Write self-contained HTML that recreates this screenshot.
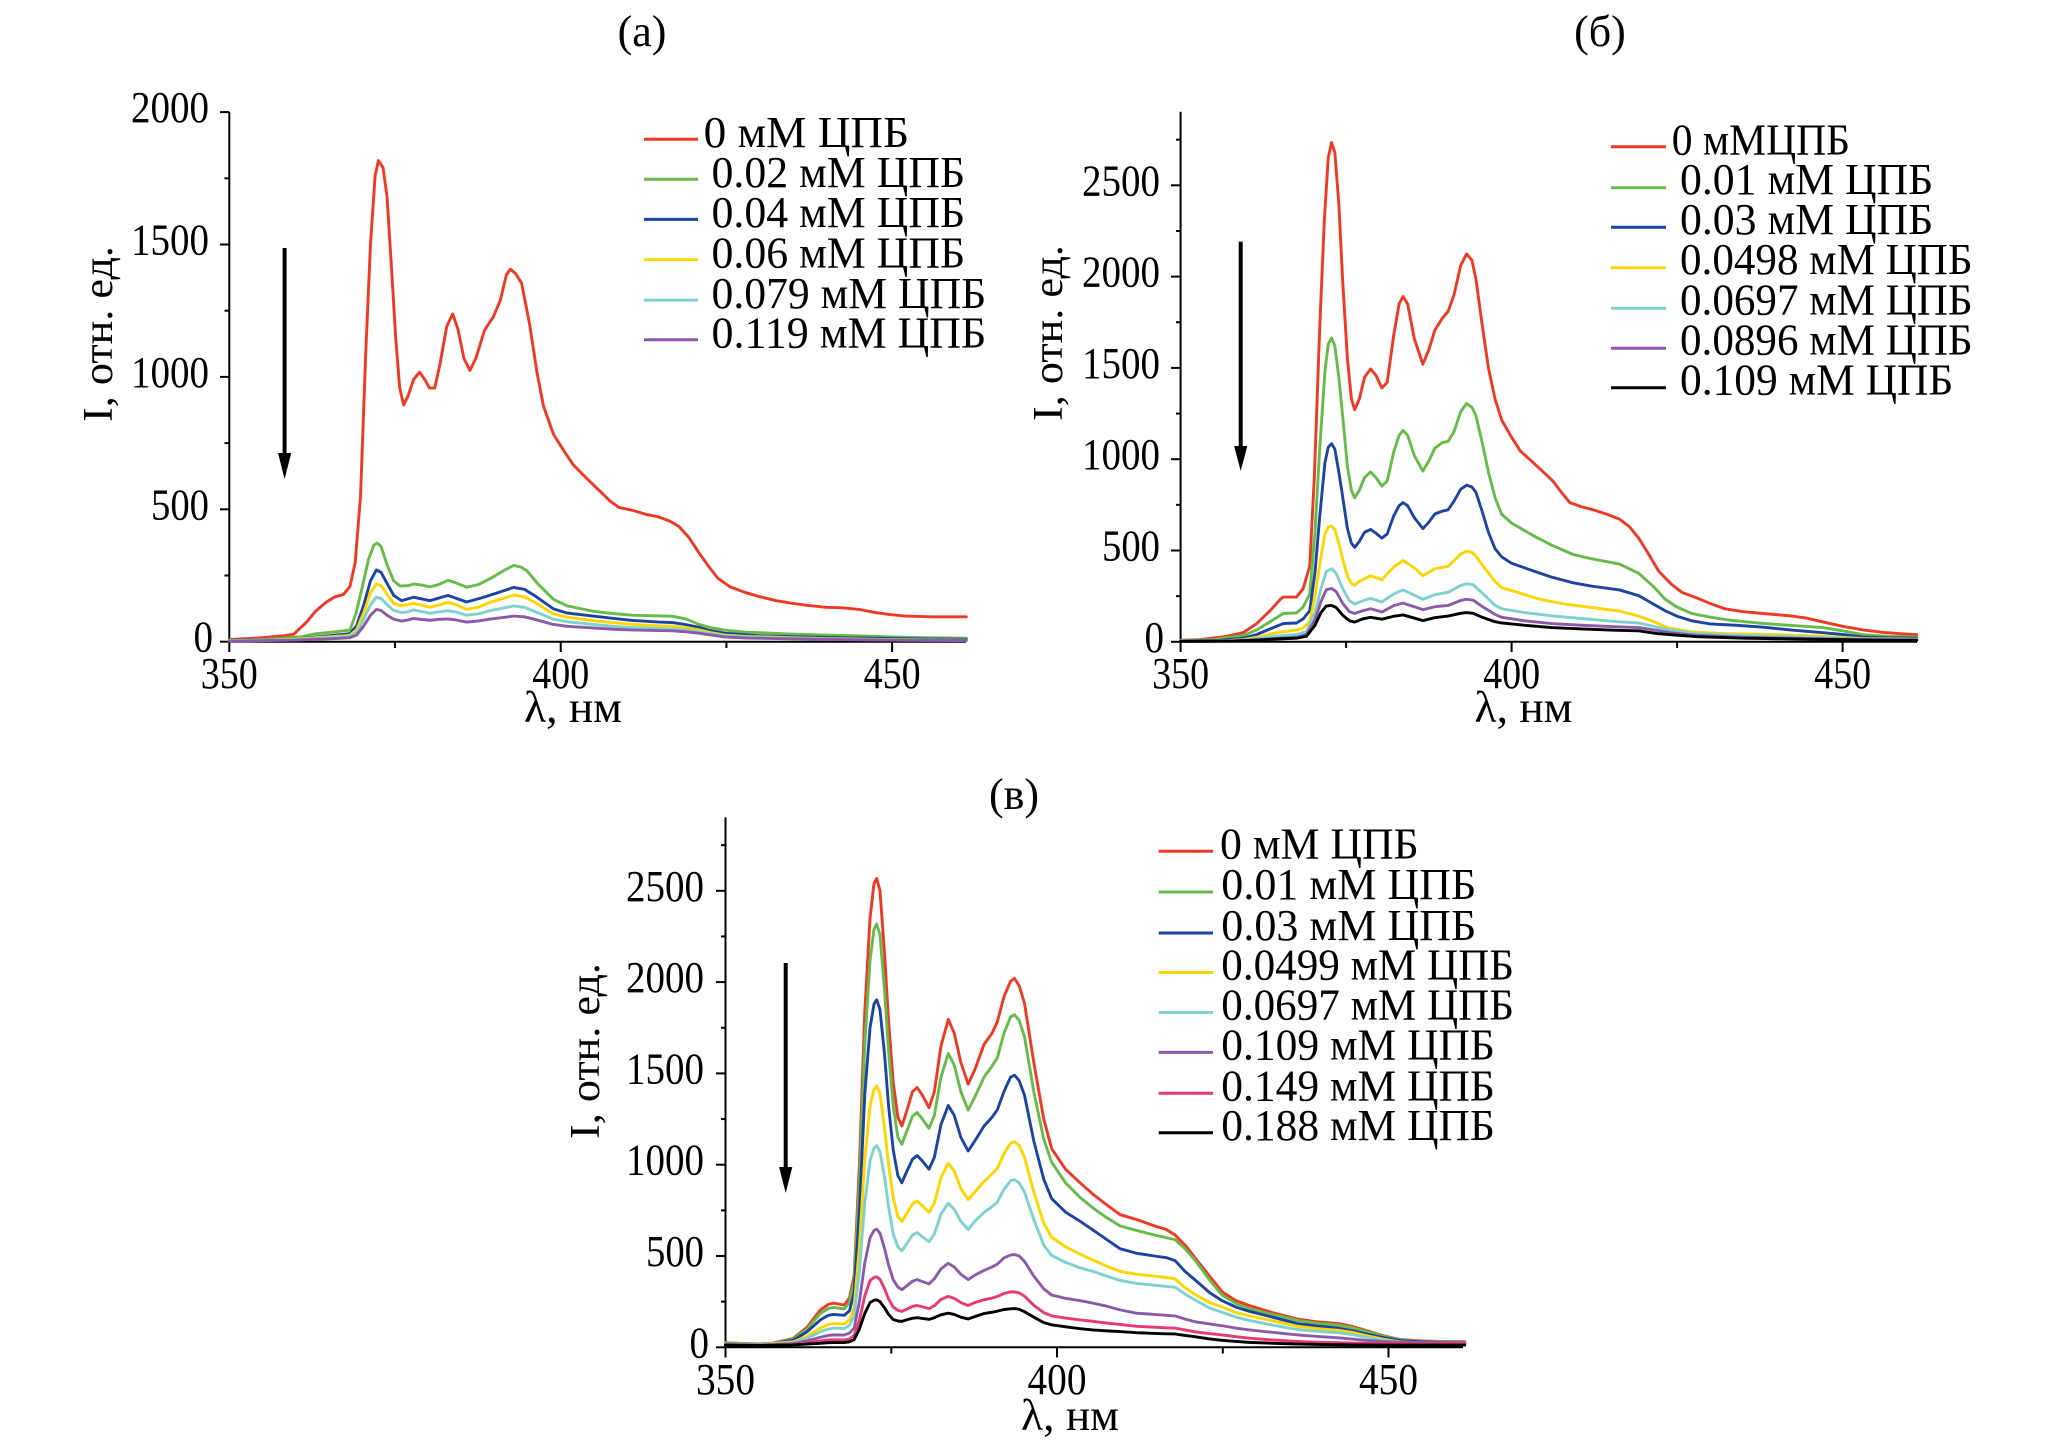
<!DOCTYPE html>
<html><head><meta charset="utf-8"><style>
html,body{margin:0;padding:0;background:#fff;}
svg{display:block;}
text{font-family:"Liberation Serif","Noto Serif CJK SC",serif;fill:#000;}
.c{fill:none;stroke-width:2.9;stroke-linejoin:round;stroke-linecap:round;vector-effect:non-scaling-stroke;}
.ax{stroke:#000;stroke-width:2;fill:none;}
.tk{stroke:#000;stroke-width:2;}
.r{stroke:#ee3a24}.g{stroke:#66bb4a}.b{stroke:#1d44a0}.y{stroke:#fdd600}.cy{stroke:#7fd1cf}.p{stroke:#8a5ca8}.pk{stroke:#e83a76}.k{stroke:#000}
</style></head><body>
<svg width="2067" height="1452" viewBox="0 0 2067 1452" xmlns="http://www.w3.org/2000/svg">
<rect width="2067" height="1452" fill="#fff"/>

<!-- ===================== PANEL (a) ===================== -->
<text x="642" y="46" font-size="44" text-anchor="middle">(a)</text>
<g>
<line class="ax" x1="229.3" y1="112" x2="229.3" y2="641.7"/>
<line class="ax" x1="229.3" y1="641.7" x2="966" y2="641.7"/>
<line class="tk" x1="220" y1="641.7" x2="229.3" y2="641.7"/>
<line class="tk" x1="220" y1="509.3" x2="229.3" y2="509.3"/>
<line class="tk" x1="220" y1="376.9" x2="229.3" y2="376.9"/>
<line class="tk" x1="220" y1="244.5" x2="229.3" y2="244.5"/>
<line class="tk" x1="220" y1="112.1" x2="229.3" y2="112.1"/>
<line class="tk" x1="224.5" y1="575.5" x2="229.3" y2="575.5"/>
<line class="tk" x1="224.5" y1="443.1" x2="229.3" y2="443.1"/>
<line class="tk" x1="224.5" y1="310.7" x2="229.3" y2="310.7"/>
<line class="tk" x1="224.5" y1="178.3" x2="229.3" y2="178.3"/>
<line class="tk" x1="229.3" y1="641.7" x2="229.3" y2="652"/>
<line class="tk" x1="395" y1="641.7" x2="395" y2="648"/>
<line class="tk" x1="560.7" y1="641.7" x2="560.7" y2="652"/>
<line class="tk" x1="726.4" y1="641.7" x2="726.4" y2="648"/>
<line class="tk" x1="892.1" y1="641.7" x2="892.1" y2="652"/>
</g>
<g font-size="44" text-anchor="end">
<text x="213" y="651.7" textLength="19.5" lengthAdjust="spacingAndGlyphs">0</text>
<text x="209" y="519.3" textLength="58" lengthAdjust="spacingAndGlyphs">500</text>
<text x="209" y="386.9" textLength="78" lengthAdjust="spacingAndGlyphs">1000</text>
<text x="209" y="254.5" textLength="78" lengthAdjust="spacingAndGlyphs">1500</text>
<text x="209" y="122.1" textLength="78" lengthAdjust="spacingAndGlyphs">2000</text>
</g>
<g font-size="44" text-anchor="middle">
<text x="229.3" y="688" textLength="57" lengthAdjust="spacingAndGlyphs">350</text>
<text x="560.7" y="688" textLength="57" lengthAdjust="spacingAndGlyphs">400</text>
<text x="892.1" y="688" textLength="57" lengthAdjust="spacingAndGlyphs">450</text>
<text x="573" y="722" textLength="98" lengthAdjust="spacingAndGlyphs">λ, нм</text>
</g>
<text font-size="42" text-anchor="middle" transform="translate(112,334) rotate(-90)" textLength="176" lengthAdjust="spacingAndGlyphs">I, отн. ед.</text>
<line x1="284.6" y1="248" x2="284.6" y2="456" stroke="#000" stroke-width="4"/>
<polygon points="278,453 291.2,453 284.6,479" fill="#000"/>
<g transform="translate(-2090.5,641.7) scale(6.628,-0.2648)">
<polyline class="c r" points="350,8 355,15 358,22 359.7,28 361.7,75 363,115 364.7,151 366,170 367.2,178 368.2,208 369,300 369.8,550 370.6,1100 371.3,1500 372,1760 372.5,1817 373.2,1790 373.8,1680 374.5,1400 375.1,1150 375.7,960 376.3,894 377,930 377.8,990 378.7,1018 379.5,990 380.2,958 381,958 381.8,1050 382.8,1190 383.7,1238 384.5,1180 385.4,1070 386.3,1024 387.2,1070 388.5,1176 389.8,1225 390.9,1290 391.8,1385 392.4,1407 393.2,1390 394.1,1354 395.3,1200 396.4,1020 397.4,890 398.9,784 400.5,720 401.9,668 404,615 405.9,569 407.5,530 408.8,507 411,495 413,480 414.8,471 416.5,455 417.8,436 419.3,395 420.8,338 422.3,285 423.7,240 425.5,208 427.7,187 430,170 432.5,155 434.7,146 437,138 440,130 442.6,128 445,122 447.5,110 449.5,103 452,97 456,94 461.2,94"/>
<polyline class="c g" points="350,6 355,8 360.7,18 363,30 366.2,38 368.2,44 369.1,106 370,200 371,310 371.8,365 372.3,373 372.9,360 373.8,290 374.8,230 375.8,210 377,212 377.8,218 379,214 380.3,207 381.5,215 383,232 384.2,222 385.8,206 387.5,215 389.5,240 391.5,270 392.9,288 394,282 394.9,268 396.5,220 398.9,160 401,135 404.9,115 408,106 410.8,100 414,98 416.9,96 419,85 420.8,66 422.5,54 424.7,44 428,36 434.7,29 440,25 444.6,22 450,18 455,15 461.2,13"/>
<polyline class="c b" points="350,5 360,10 364,20 366.5,26 368.2,30 369.2,60 370.3,140 371.3,230 372.2,271 372.9,262 373.8,220 374.8,175 376,155 377.8,168 380.3,155 383,175 385.8,150 388,165 390.5,185 392.9,205 394.5,198 396,175 398.9,124 401,108 404.9,97 408,88 411,80 414.8,74 417,72 419,64 420.8,55 422.5,42 424.7,32 430,22 440,16 450,12 461.2,9"/>
<polyline class="c y" points="350,4 355,6 360,10 363,15 366,20 368.2,24 369.2,45 370.3,110 371.3,185 372.2,218 372.9,212 373.8,180 374.8,145 376,135 377,140 377.8,145 379,138 380.3,130 381.5,138 383,148 384.2,140 385.8,122 387.5,130 389.5,150 391.5,165 392.9,176 394.5,170 396,150 398.9,105 401,92 404.9,80 408,72 411,65 414.8,60 417,58 419,52 420.8,45 422.5,35 424.7,25 428,20 434.7,15 440,12 445,10 450,8 455,7 461.2,6"/>
<polyline class="c cy" points="350,3 355,5 360,8 363,12 366,16 368.2,20 369.2,35 370.3,85 371.3,140 372.2,168 372.9,163 373.8,140 374.8,118 376,110 377,113 377.8,120 379,114 380.3,107 381.5,112 383,117 384.2,112 385.8,100 387.5,105 389.5,118 391.5,128 392.9,135 394.5,130 396,115 398.9,85 401,75 404.9,65 408,58 411,53 414.8,50 417,48 419,43 420.8,38 422.5,30 424.7,22 428,17 434.7,13 440,10 445,8 450,7 455,6 461.2,5"/>
<polyline class="c p" points="350,2 355,4 360,6 363,9 366,12 368.2,15 369.2,25 370.3,60 371.3,100 372.2,122 372.9,118 373.8,100 374.8,85 376,78 377,82 377.8,88 379,84 380.3,81 381.5,84 383,86 384.2,82 385.8,74 387.5,78 389.5,86 391.5,92 392.9,97 394.5,94 396,85 398.9,65 401,58 404.9,52 408,47 411,44 414.8,42 417,41 419,37 420.8,32 422.5,26 424.7,18 428,14 434.7,11 440,9 445,7 450,6 455,5 461.2,5"/>
</g>
<g stroke-width="3">
<line class="r" x1="644" y1="139.2" x2="698" y2="139.2"/>
<line class="g" x1="644" y1="179.3" x2="698" y2="179.3"/>
<line class="b" x1="644" y1="219.4" x2="698" y2="219.4"/>
<line class="y" x1="644" y1="259.6" x2="698" y2="259.6"/>
<line class="cy" x1="644" y1="300.1" x2="698" y2="300.1"/>
<line class="p" x1="644" y1="339.8" x2="698" y2="339.8"/>
</g>
<g font-size="44">
<text x="703.6" y="147" textLength="205.5" lengthAdjust="spacingAndGlyphs">0 мМ ЦПБ</text>
<text x="711.5" y="187" textLength="253.6" lengthAdjust="spacingAndGlyphs">0.02 мМ ЦПБ</text>
<text x="711.5" y="227" textLength="253.6" lengthAdjust="spacingAndGlyphs">0.04 мМ ЦПБ</text>
<text x="711.5" y="267.5" textLength="253.6" lengthAdjust="spacingAndGlyphs">0.06 мМ ЦПБ</text>
<text x="711.5" y="308" textLength="274.7" lengthAdjust="spacingAndGlyphs">0.079 мМ ЦПБ</text>
<text x="711.5" y="347.5" textLength="274.7" lengthAdjust="spacingAndGlyphs">0.119 мМ ЦПБ</text>
</g>

<!-- ===================== PANEL (б) ===================== -->
<text x="1600" y="46" font-size="44" text-anchor="middle">(б)</text>
<g>
<line class="ax" x1="1180.6" y1="111.8" x2="1180.6" y2="641.8"/>
<line class="ax" x1="1180.6" y1="641.8" x2="1917" y2="641.8"/>
<line class="tk" x1="1171" y1="641.8" x2="1180.6" y2="641.8"/>
<line class="tk" x1="1171" y1="550.5" x2="1180.6" y2="550.5"/>
<line class="tk" x1="1171" y1="459.2" x2="1180.6" y2="459.2"/>
<line class="tk" x1="1171" y1="367.9" x2="1180.6" y2="367.9"/>
<line class="tk" x1="1171" y1="276.6" x2="1180.6" y2="276.6"/>
<line class="tk" x1="1171" y1="185.3" x2="1180.6" y2="185.3"/>
<line class="tk" x1="1176" y1="596.15" x2="1180.6" y2="596.15"/>
<line class="tk" x1="1176" y1="504.85" x2="1180.6" y2="504.85"/>
<line class="tk" x1="1176" y1="413.55" x2="1180.6" y2="413.55"/>
<line class="tk" x1="1176" y1="322.25" x2="1180.6" y2="322.25"/>
<line class="tk" x1="1176" y1="230.95" x2="1180.6" y2="230.95"/>
<line class="tk" x1="1176" y1="139.65" x2="1180.6" y2="139.65"/>
<line class="tk" x1="1180.6" y1="641.8" x2="1180.6" y2="652"/>
<line class="tk" x1="1346.1" y1="641.8" x2="1346.1" y2="648"/>
<line class="tk" x1="1511.6" y1="641.8" x2="1511.6" y2="652"/>
<line class="tk" x1="1677.1" y1="641.8" x2="1677.1" y2="648"/>
<line class="tk" x1="1842.6" y1="641.8" x2="1842.6" y2="652"/>
</g>
<g font-size="44" text-anchor="end">
<text x="1164" y="651.8" textLength="19.5" lengthAdjust="spacingAndGlyphs">0</text>
<text x="1160" y="560.5" textLength="58" lengthAdjust="spacingAndGlyphs">500</text>
<text x="1160" y="469.2" textLength="78" lengthAdjust="spacingAndGlyphs">1000</text>
<text x="1160" y="377.9" textLength="78" lengthAdjust="spacingAndGlyphs">1500</text>
<text x="1160" y="286.6" textLength="78" lengthAdjust="spacingAndGlyphs">2000</text>
<text x="1160" y="195.3" textLength="78" lengthAdjust="spacingAndGlyphs">2500</text>
</g>
<g font-size="44" text-anchor="middle">
<text x="1180.6" y="688" textLength="57" lengthAdjust="spacingAndGlyphs">350</text>
<text x="1511.6" y="688" textLength="57" lengthAdjust="spacingAndGlyphs">400</text>
<text x="1842.6" y="688" textLength="57" lengthAdjust="spacingAndGlyphs">450</text>
<text x="1523.5" y="722" textLength="98" lengthAdjust="spacingAndGlyphs">λ, нм</text>
</g>
<text font-size="42" text-anchor="middle" transform="translate(1062,333) rotate(-90)" textLength="176" lengthAdjust="spacingAndGlyphs">I, отн. ед.</text>
<line x1="1240.7" y1="241.6" x2="1240.7" y2="449" stroke="#000" stroke-width="4"/>
<polygon points="1234.1,446 1247.3,446 1240.7,471" fill="#000"/>
<g transform="translate(-1136.4,641.8) scale(6.62,-0.1826)">
<polyline class="c r" points="350,8 353,12 357,30 359.5,51 361.5,100 363.5,170 365,230 365.5,245 367.5,245 368.5,290 369.5,413 370.2,900 371,1706 371.7,2300 372.3,2650 372.8,2734 373.3,2680 373.9,2400 374.5,1965 375.2,1550 375.8,1330 376.3,1271 377,1330 377.8,1450 378.7,1494 379.5,1460 380.4,1390 381.2,1420 382.2,1680 383,1850 383.6,1891 384.3,1850 385.3,1660 386.6,1520 387.5,1600 388.4,1706 389.5,1770 390.4,1809 391.3,1900 392.3,2060 393.2,2124 394,2090 394.6,1990 395.5,1750 396.5,1500 397.5,1330 398.5,1215 400,1120 401.3,1046 403,990 404.5,940 406.3,878 407.5,820 408.8,762 410.5,740 412.3,723 414.3,700 416.3,672 417.8,630 419.2,568 420.7,480 422.2,388 424,320 425.7,271 428,240 430,210 432.2,181 435,165 438,155 442.1,142 444.5,130 447.1,108 450,85 453.1,65 456,52 458.5,45 461.2,39"/>
<polyline class="c g" points="350,6 355,12 359.5,35 361.5,65 363.5,110 365.5,155 367.5,158 368.5,190 369.5,260 370.3,600 371,1050 371.8,1480 372.3,1630 372.8,1664 373.3,1620 373.9,1450 374.5,1230 375.2,960 375.8,830 376.3,788 377,830 377.8,900 378.7,930 379.5,900 380.4,853 381.2,880 382.2,1040 383,1130 383.6,1158 384.3,1130 385.3,1020 386.6,935 387.5,990 388.4,1060 389.5,1090 390.4,1098 391.3,1150 392.3,1260 393.2,1305 394,1285 394.6,1240 395.5,1100 396.5,930 397.5,790 398.5,698 400,650 403.3,581 406,530 409.3,478 412,455 416.3,426 419.2,375 421.5,300 423.2,233 425,190 427.2,155 430,135 433,118 437.2,103 442,90 447,78 450,60 453.1,39 457,30 461.2,26"/>
<polyline class="c b" points="350,5 356,8 359.5,20 361.5,40 363.5,70 365.5,100 367.5,103 368.5,125 369.5,170 370.3,380 371,680 371.8,980 372.3,1065 372.8,1085 373.3,1055 373.9,930 374.5,790 375.2,620 375.8,540 376.3,517 377,550 377.8,600 378.7,615 379.5,595 380.4,568 381.2,590 382.2,690 383,745 383.6,762 384.3,745 385.3,680 386.6,620 387.5,655 388.4,700 389.5,715 390.4,723 391.3,770 392.3,835 393.2,858 394,848 394.6,820 395.5,720 396.5,600 397.5,510 398.5,465 400,430 403.3,388 406,355 409.3,323 412,305 416.3,284 419.2,253 421.5,205 423.2,170 425,140 427.2,115 430,98 434.2,90 438,80 442.1,65 447,50 450,40 453.1,26 457,22 461.2,20"/>
<polyline class="c y" points="350,4 357,6 359.5,12 362,28 364.5,50 367.5,65 368.5,75 369.5,110 370.3,250 371,420 371.8,590 372.3,628 372.8,633 373.3,615 373.9,540 374.5,450 375.2,360 375.8,320 376.3,310 377,330 378.7,362 380.4,340 382.2,410 383.6,445 385.3,405 386.6,362 388.4,400 390.4,413 392.3,480 393.2,496 394,490 394.6,470 396,400 397.5,330 398.5,297 401,270 404,235 408,207 412,188 416.3,168 419.2,141 421.5,110 423.5,78 427,55 432,45 440,39 447,30 453,18 461.2,14"/>
<polyline class="c cy" points="350,3 358,6 361,15 364,30 367.5,40 369,55 370.3,160 371.2,290 372,385 372.8,400 373.5,375 374.5,290 375.5,225 376.3,207 377.5,225 378.7,238 380.4,218 382.2,262 383.6,284 385.3,255 386.6,233 388.4,258 390.4,271 392.3,308 393.2,318 394.2,312 395.5,270 397.5,200 398.5,181 402,160 406,142 410,129 416,110 419.2,103 422,80 424,65 428,45 435,35 445,25 453,15 461.2,12"/>
<polyline class="c p" points="350,3 358,5 362,12 365,20 367.5,25 369,40 370.3,120 371.2,220 372,285 372.8,292 373.5,275 374.5,210 375.5,165 376.3,155 377.5,170 378.7,181 380.4,163 382.2,198 383.6,212 385.3,192 386.6,176 388.4,192 390.4,199 392.3,226 393.2,233 394.2,228 395.5,195 397.5,150 398.5,134 402,115 406,100 411,90 416,82 419.2,78 422,62 424,50 428,35 435,25 445,18 453,12 461.2,10"/>
<polyline class="c k" points="350,2 358,4 362,10 365,16 367.5,20 369,30 370.3,90 371.2,160 372,196 372.8,199 373.5,188 374.5,145 375.5,115 376.3,108 377.5,125 378.7,134 380.4,124 382.2,140 383.6,147 385.3,130 386.6,116 388.4,132 390.4,141 392.3,156 393.2,160 394.2,156 395.5,135 397.5,110 398.5,103 402,90 406,78 411,70 416,63 419.2,60 422,45 424,39 428,28 435,20 445,14 453,10 461.2,8"/>
</g>
<g stroke-width="3">
<line class="r" x1="1611" y1="146.7" x2="1666" y2="146.7"/>
<line class="g" x1="1611" y1="187.7" x2="1666" y2="187.7"/>
<line class="b" x1="1611" y1="227.3" x2="1666" y2="227.3"/>
<line class="y" x1="1611" y1="267.7" x2="1666" y2="267.7"/>
<line class="cy" x1="1611" y1="308.3" x2="1666" y2="308.3"/>
<line class="p" x1="1611" y1="348.3" x2="1666" y2="348.3"/>
<line class="k" x1="1611" y1="387.7" x2="1666" y2="387.7"/>
</g>
<g font-size="44">
<text x="1671.7" y="154.3" textLength="178.3" lengthAdjust="spacingAndGlyphs">0 мМЦПБ</text>
<text x="1680" y="194" textLength="253.3" lengthAdjust="spacingAndGlyphs">0.01 мМ ЦПБ</text>
<text x="1680" y="234" textLength="253.3" lengthAdjust="spacingAndGlyphs">0.03 мМ ЦПБ</text>
<text x="1680" y="274" textLength="292.7" lengthAdjust="spacingAndGlyphs">0.0498 мМ ЦПБ</text>
<text x="1680" y="314.3" textLength="292.7" lengthAdjust="spacingAndGlyphs">0.0697 мМ ЦПБ</text>
<text x="1680" y="354.3" textLength="292.7" lengthAdjust="spacingAndGlyphs">0.0896 мМ ЦПБ</text>
<text x="1680" y="394.3" textLength="273.3" lengthAdjust="spacingAndGlyphs">0.109 мМ ЦПБ</text>
</g>

<!-- ===================== PANEL (в) ===================== -->
<text x="1014" y="809" font-size="44" text-anchor="middle">(в)</text>
<g>
<line class="ax" x1="725.5" y1="817.4" x2="725.5" y2="1347.3"/>
<line class="ax" x1="725.5" y1="1347.3" x2="1463" y2="1347.3"/>
<line class="tk" x1="716" y1="1347.3" x2="725.5" y2="1347.3"/>
<line class="tk" x1="716" y1="1256" x2="725.5" y2="1256"/>
<line class="tk" x1="716" y1="1164.7" x2="725.5" y2="1164.7"/>
<line class="tk" x1="716" y1="1073.4" x2="725.5" y2="1073.4"/>
<line class="tk" x1="716" y1="982.1" x2="725.5" y2="982.1"/>
<line class="tk" x1="716" y1="890.8" x2="725.5" y2="890.8"/>
<line class="tk" x1="721" y1="1301.65" x2="725.5" y2="1301.65"/>
<line class="tk" x1="721" y1="1210.35" x2="725.5" y2="1210.35"/>
<line class="tk" x1="721" y1="1119.05" x2="725.5" y2="1119.05"/>
<line class="tk" x1="721" y1="1027.75" x2="725.5" y2="1027.75"/>
<line class="tk" x1="721" y1="936.45" x2="725.5" y2="936.45"/>
<line class="tk" x1="721" y1="845.15" x2="725.5" y2="845.15"/>
<line class="tk" x1="725.5" y1="1347.3" x2="725.5" y2="1357.5"/>
<line class="tk" x1="891.3" y1="1347.3" x2="891.3" y2="1353.5"/>
<line class="tk" x1="1057" y1="1347.3" x2="1057" y2="1357.5"/>
<line class="tk" x1="1222.8" y1="1347.3" x2="1222.8" y2="1353.5"/>
<line class="tk" x1="1388.5" y1="1347.3" x2="1388.5" y2="1357.5"/>
</g>
<g font-size="44" text-anchor="end">
<text x="709" y="1357.3" textLength="19.5" lengthAdjust="spacingAndGlyphs">0</text>
<text x="704" y="1266" textLength="58" lengthAdjust="spacingAndGlyphs">500</text>
<text x="704" y="1174.7" textLength="78" lengthAdjust="spacingAndGlyphs">1000</text>
<text x="704" y="1083.4" textLength="78" lengthAdjust="spacingAndGlyphs">1500</text>
<text x="704" y="992.1" textLength="78" lengthAdjust="spacingAndGlyphs">2000</text>
<text x="704" y="900.8" textLength="78" lengthAdjust="spacingAndGlyphs">2500</text>
</g>
<g font-size="44" text-anchor="middle">
<text x="725.5" y="1394" textLength="59" lengthAdjust="spacingAndGlyphs">350</text>
<text x="1057" y="1394" textLength="59" lengthAdjust="spacingAndGlyphs">400</text>
<text x="1388.5" y="1394" textLength="59" lengthAdjust="spacingAndGlyphs">450</text>
<text x="1070" y="1430" textLength="98" lengthAdjust="spacingAndGlyphs">λ, нм</text>
</g>
<text font-size="42" text-anchor="middle" transform="translate(599,1051) rotate(-90)" textLength="176" lengthAdjust="spacingAndGlyphs">I, отн. ед.</text>
<line x1="785.7" y1="963" x2="785.7" y2="1170" stroke="#000" stroke-width="4"/>
<polygon points="779.1,1167 792.3,1167 785.7,1193" fill="#000"/>
<g transform="translate(-1595,1347.3) scale(6.63,-0.1826)">
<polyline class="c r" points="350,25 353,20 355,18 357.1,23 360.2,48 362.3,110 364.3,204 365.5,235 366.3,242 367.9,231 368.7,270 369.4,391 370.2,1000 371,1833 371.8,2350 372.4,2540 372.8,2567 373.3,2500 374,2150 374.6,1783 375.3,1450 376,1260 376.6,1212 377.3,1290 378.2,1400 378.9,1423 379.7,1380 380.7,1312 381.5,1400 382.5,1650 383.6,1796 384.5,1720 385.5,1560 386.6,1441 387.6,1520 389,1659 390.2,1720 391,1783 392,1920 393,2005 393.6,2020 394.3,1980 395.1,1883 396.5,1560 398,1250 399.2,1088 401.3,975 403.5,900 405.4,839 407.5,780 409.5,727 412,700 414.7,665 416.5,645 417.8,615 419.3,560 420.8,491 423,390 424.9,304 427,255 429,229 432.5,190 436.3,155 439,140 442.4,130 444.5,115 446.5,93 449,65 451.7,43 455,35 458,32 461.5,31"/>
<polyline class="c g" points="350,25 353,20 355,18 357.1,22 360.2,44 362.3,100 364.3,185 365.5,212 366.3,218 367.9,210 368.7,245 369.4,360 370.2,900 371,1650 371.8,2120 372.4,2290 372.8,2318 373.3,2260 374,1950 374.6,1620 375.3,1320 376,1150 376.6,1112 377.3,1180 378.2,1265 378.9,1286 379.7,1250 380.7,1199 381.5,1270 382.5,1480 383.6,1609 384.5,1545 385.5,1400 386.6,1299 387.6,1370 389,1480 390.2,1540 391,1585 392,1720 393,1810 393.6,1821 394.3,1790 395.1,1700 396.5,1400 398,1140 399.2,1013 401.3,900 403.5,820 405.4,764 407.5,710 409.5,665 412,640 414.7,615 416.5,600 417.8,590 419.3,540 420.8,478 423,370 424.9,286 427,240 429,212 432.5,180 436.3,148 439,133 442.4,122 444.5,108 446.5,88 449,62 451.7,40 455,33 458,30 461.5,28"/>
<polyline class="c b" points="350,22 353,18 355,16 357.1,20 360.2,38 362.3,85 364.3,150 365.5,175 366.3,180 367.9,175 368.7,200 369.4,300 370.2,750 371,1380 371.8,1750 372.4,1880 372.8,1903 373.3,1850 374,1600 374.6,1320 375.3,1080 376,940 376.6,901 377.3,960 378.2,1030 378.9,1050 379.7,1020 380.7,975 381.5,1040 382.5,1220 383.6,1324 384.5,1270 385.5,1150 386.6,1075 387.6,1130 389,1212 390.2,1260 391,1300 392,1400 393,1480 393.6,1490 394.3,1460 395.1,1380 396.5,1130 398,920 399.2,814 401.3,740 403.5,690 405.4,643 407.5,590 409.5,540 412,515 414.7,500 416.5,491 417.8,475 419.3,416 420.8,370 423,300 424.9,255 427,220 429,197 432.5,165 436.3,130 439,118 442.4,105 444.5,92 446.5,75 449,55 451.7,37 455,30 458,26 461.5,24"/>
<polyline class="c y" points="350,20 355,15 360.2,30 362.3,60 364.3,105 365.5,125 366.3,130 367.9,128 368.7,150 369.4,220 370.2,550 371,1030 371.8,1320 372.4,1415 372.8,1431 373.3,1390 374,1200 374.6,1000 375.3,820 376,715 376.6,689 377.3,730 378.2,785 378.9,801 379.7,775 380.7,739 381.5,790 382.5,930 383.6,1008 384.5,965 385.5,870 386.6,809 387.6,850 389,908 390.2,950 391,980 392,1060 393,1118 393.6,1125 394.3,1105 395.1,1040 396.5,850 398,680 399.2,602 401.3,550 403.5,510 405.4,478 407.5,445 409.5,416 412,400 414.7,390 416.5,382 417.8,375 419.3,327 420.8,290 423,245 424.9,221 427,190 429,172 432.5,145 436.3,115 439,103 442.4,93 444.5,82 446.5,65 449,46 451.7,30 455,24 458,21 461.5,19"/>
<polyline class="c cy" points="350,18 355,14 360.2,26 362.3,50 364.3,85 365.5,100 366.3,105 367.9,103 368.7,120 369.4,170 370.2,420 371,790 371.8,1020 372.4,1092 372.8,1105 373.3,1070 374,930 374.6,770 375.3,620 376,550 376.6,528 377.3,565 378.2,615 378.9,628 379.7,605 380.7,578 381.5,620 382.5,730 383.6,789 384.5,755 385.5,690 386.6,645 387.6,690 389,739 390.2,770 391,795 392,865 393,912 393.6,918 394.3,900 395.1,850 396.5,700 398,560 399.2,503 401.3,465 403.5,435 405.4,416 407.5,390 409.5,366 412,350 414.7,340 416.5,333 417.8,329 419.3,292 420.8,260 423,215 424.9,192 427,165 429,147 432.5,122 436.3,97 439,88 442.4,80 444.5,70 446.5,56 449,40 451.7,27 455,22 458,19 461.5,17"/>
<polyline class="c p" points="350,15 355,12 360.2,20 362.3,35 364.3,55 365.5,65 366.3,68 367.9,67 368.7,78 369.4,105 370.2,250 371,460 371.8,600 372.4,640 372.8,647 373.3,625 374,540 374.6,450 375.3,370 376,330 376.6,316 377.3,335 378.2,362 378.9,371 379.7,360 380.7,347 381.5,375 382.5,430 383.6,460 384.5,440 385.5,400 386.6,371 387.6,395 389,421 390.2,440 391,455 392,490 393,505 393.6,508 394.3,500 395.1,470 396.5,390 398,320 399.2,286 401.3,268 403.5,255 405.4,242 407.5,225 409.5,205 412,187 414.7,180 416.5,175 417.8,172 419.3,155 420.8,140 423,128 424.9,118 427,105 429,95 432.5,82 436.3,68 439,60 442.4,52 444.5,45 446.5,38 449,32 451.7,28 455,26 458,25 461.5,25"/>
<polyline class="c pk" points="350,14 355,11 360.2,16 362.3,25 364.3,35 365.5,40 366.3,41 367.9,40 368.7,46 369.4,65 370.2,150 371,280 371.8,365 372.4,383 372.8,386 373.3,372 374,320 374.6,265 375.3,220 376,203 376.6,197 377.3,208 378.2,224 378.9,229 379.7,222 380.7,212 381.5,228 382.5,262 383.6,279 384.5,268 385.5,245 386.6,229 387.6,245 389,260 390.2,270 391,278 392,295 393,303 393.6,304 394.3,298 395.1,280 396.5,230 398,190 399.2,172 401.3,160 403.5,150 405.4,142 407.5,133 409.5,125 412,115 414.7,110 416.5,107 417.8,105 419.3,95 420.8,85 423,75 424.9,68 427,58 429,50 432.5,40 436.3,32 439,28 442.4,25 444.5,23 446.5,22 449,21 451.7,20 455,20 458,20 461.5,20"/>
<polyline class="c k" points="350,12 355,10 360.2,13 362.3,18 364.3,22 365.5,25 366.3,26 367.9,26 368.7,30 369.4,42 370.2,100 371,185 371.8,245 372.4,258 372.8,260 373.3,250 374,215 374.6,180 375.3,152 376,144 376.6,142 377.3,150 378.2,159 378.9,162 379.7,158 380.7,153 381.5,162 382.5,178 383.6,187 384.5,180 385.5,165 386.6,155 387.6,168 389,185 390.2,192 391,198 392,207 393,211 393.6,212 394.3,208 395.1,195 396.5,165 398,135 399.2,123 401.3,112 403.5,102 405.4,95 407.5,90 409.5,86 412,80 414.7,76 416.5,74 417.8,73 419.3,65 420.8,58 423,46 424.9,38 427,32 429,27 432.5,22 436.3,18 439,16 442.4,14 444.5,13 446.5,13 449,12 451.7,12 455,12 458,12 461.5,12"/>
</g>
<g stroke-width="3">
<line class="r" x1="1158.7" y1="851.3" x2="1213" y2="851.3"/>
<line class="g" x1="1158.7" y1="892" x2="1213" y2="892"/>
<line class="b" x1="1158.7" y1="933" x2="1213" y2="933"/>
<line class="y" x1="1158.7" y1="972.5" x2="1213" y2="972.5"/>
<line class="cy" x1="1158.7" y1="1012.5" x2="1213" y2="1012.5"/>
<line class="p" x1="1158.7" y1="1052.4" x2="1213" y2="1052.4"/>
<line class="pk" x1="1158.7" y1="1093.3" x2="1213" y2="1093.3"/>
<line class="k" x1="1158.7" y1="1132.8" x2="1213" y2="1132.8"/>
</g>
<g font-size="44">
<text x="1220" y="858.5" textLength="198.7" lengthAdjust="spacingAndGlyphs">0 мМ ЦПБ</text>
<text x="1221.3" y="899" textLength="255" lengthAdjust="spacingAndGlyphs">0.01 мМ ЦПБ</text>
<text x="1221.3" y="940" textLength="255" lengthAdjust="spacingAndGlyphs">0.03 мМ ЦПБ</text>
<text x="1221.3" y="979.5" textLength="292.7" lengthAdjust="spacingAndGlyphs">0.0499 мМ ЦПБ</text>
<text x="1221.3" y="1019.5" textLength="292.7" lengthAdjust="spacingAndGlyphs">0.0697 мМ ЦПБ</text>
<text x="1221.3" y="1059.5" textLength="273.6" lengthAdjust="spacingAndGlyphs">0.109 мМ ЦПБ</text>
<text x="1221.3" y="1100.3" textLength="273.6" lengthAdjust="spacingAndGlyphs">0.149 мМ ЦПБ</text>
<text x="1221.3" y="1139.8" textLength="273.6" lengthAdjust="spacingAndGlyphs">0.188 мМ ЦПБ</text>
</g>
</svg>
</body></html>
